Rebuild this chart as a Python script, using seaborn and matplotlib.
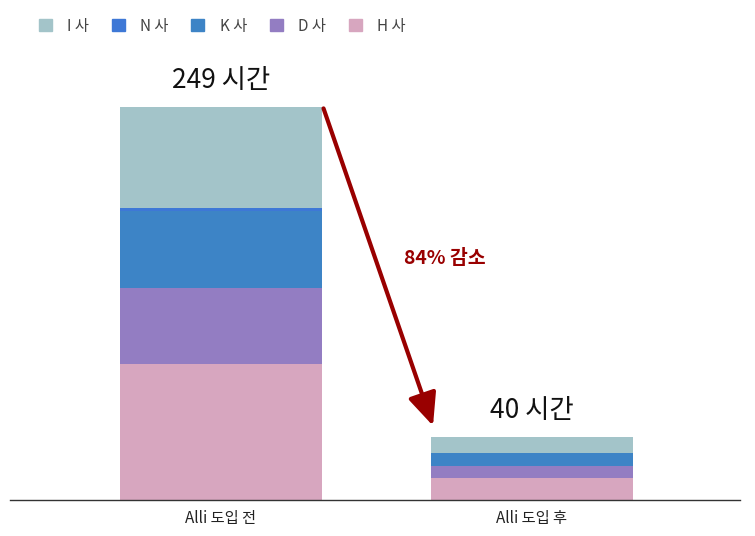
import numpy as np
import pandas as pd
import matplotlib
matplotlib.use("Agg")
import matplotlib.pyplot as plt
from matplotlib.patches import Patch
import seaborn as sns

# ── Data ─────────────────────────────────────────────────────
stages = ["Alli 도입 전", "Alli 도입 후"]
companies = ["I 사", "N 사", "K 사", "D 사", "H 사"]   # top → bottom in the stack
hours_i = [64, 10]
hours_n = [2, 0.5]
hours_k = [49, 8]
hours_d = [48, 7.5]
hours_h = [86, 14]

COLORS = {
    "I 사": "#a3c4c9",
    "N 사": "#3e78d6",
    "K 사": "#3d84c6",
    "D 사": "#937dc2",
    "H 사": "#d7a6bf",
}

# ── Style ────────────────────────────────────────────────────
sns.set_theme(style="white")
plt.rcParams["font.family"] = ["Noto Sans CJK KR", "DejaVu Sans"]

df = pd.DataFrame({
    "stage": stages,
    "I 사": hours_i, "N 사": hours_n, "K 사": hours_k,
    "D 사": hours_d, "H 사": hours_h,
})

fig = plt.figure(figsize=(7.55, 5.36), dpi=100)
ax = fig.add_axes([10 / 755, 36 / 536, 730 / 755, 450 / 536])

BAR_W = 0.65
# stacked bars: draw cumulative totals from the top segment down
for i, comp in enumerate(companies):
    cum = df[companies[i:]].sum(axis=1)
    sns.barplot(x=df["stage"], y=cum, color=COLORS[comp], width=BAR_W,
                saturation=1, ax=ax, linewidth=0)

totals = df[companies].sum(axis=1)
for xi, tot in enumerate(totals):
    ax.text(xi, tot + 17, f"{tot:.0f} 시간", ha="center", va="center",
            fontsize=19, color="#111111")

# arrow + reduction label
drop = (totals[0] - totals[1]) / totals[0] * 100
ax.annotate("", xy=(1 - BAR_W / 2 + 0.007, totals[1] + 7),
            xytext=(BAR_W / 2 + 0.005, totals[0] - 1),
            arrowprops=dict(arrowstyle="-|>,head_length=0.9,head_width=0.4",
                            mutation_scale=22, color="#990000", lw=3,
                            shrinkA=0, shrinkB=0))
ax.text(0.72, 153, f"{drop:.0f}% 감소", ha="center", va="center",
        fontsize=14, fontweight="bold", color="#990000")

ax.set_xlim(-0.678, 1.669)
ax.set_ylim(0, 285)
ax.set_xlabel("")
ax.set_ylabel("")
ax.set_yticks([])
for side in ["top", "left", "right"]:
    ax.spines[side].set_visible(False)
ax.spines["bottom"].set_color("#333333")
ax.spines["bottom"].set_linewidth(1)
ax.tick_params(axis="x", length=0, labelsize=11, colors="#222222", pad=7)

handles = [Patch(facecolor=COLORS[c], edgecolor=COLORS[c], label=c) for c in companies]
fig.legend(handles=handles, loc="upper left", bbox_to_anchor=(0.033, 0.993),
           ncol=5, frameon=False, fontsize=11, handlelength=0.85, handleheight=0.85,
           columnspacing=1.5, handletextpad=1.0, labelcolor="#444444")

fig.savefig("out.png", dpi=100)
